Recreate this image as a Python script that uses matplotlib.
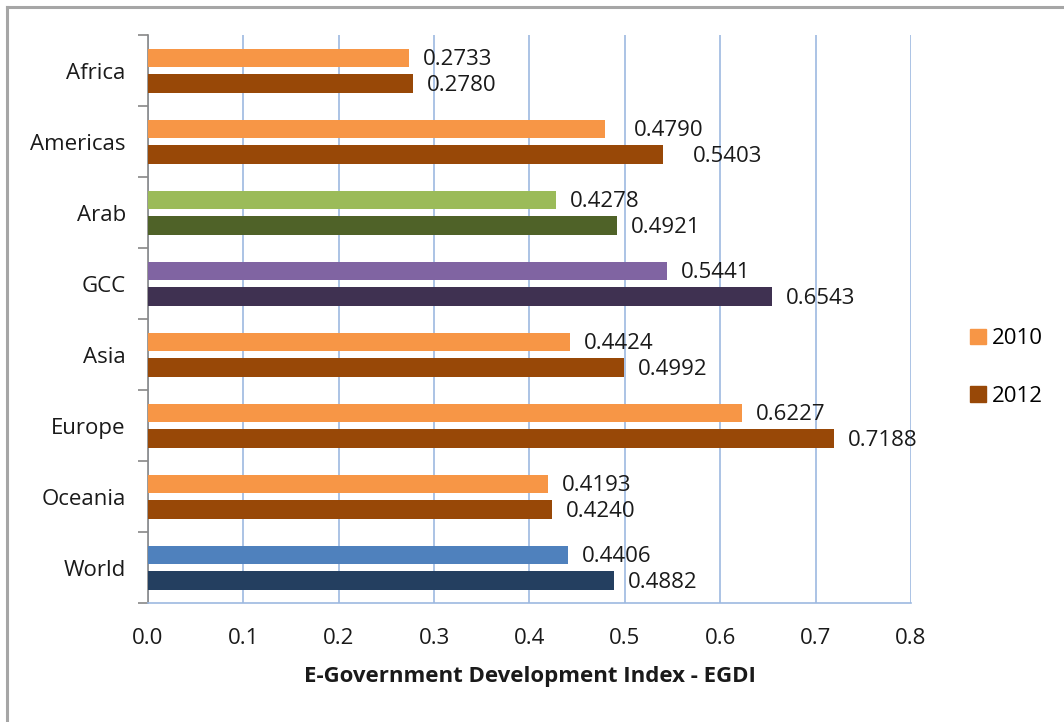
import numpy as np
import matplotlib.pyplot as plt
from matplotlib.lines import Line2D
from matplotlib.patches import Patch

plt.rcParams['font.family'] = ['Open Sans', 'DejaVu Sans']

regions = ["Africa", "Americas", "Arab", "GCC", "Asia", "Europe", "Oceania", "World"]
egdi_2010 = [0.2733, 0.4790, 0.4278, 0.5441, 0.4424, 0.6227, 0.4193, 0.4406]
egdi_2012 = [0.2780, 0.5403, 0.4921, 0.6543, 0.4992, 0.7188, 0.4240, 0.4882]

# colours per region (2010, 2012)
col_2010 = ["#F79646", "#F79646", "#9BBB59", "#8064A2", "#F79646", "#F79646", "#F79646", "#4F81BD"]
col_2012 = ["#984807", "#984807", "#4F6228", "#3F3151", "#984807", "#984807", "#984807", "#243F60"]
# extra label shift (points) - Excel put the Americas labels further out
label_shift = [0, 11, 0, 0, 0, 0, 0, 0]

fs = 16

fig = plt.figure(figsize=(10.64, 7.22), dpi=100)
ax = fig.add_axes([0.1391, 0.1648, 0.7171, 0.7867])

n = len(regions)
y = np.arange(n)
h = 0.254
off = 0.183
ax.barh(y - off, egdi_2010, height=h, color=col_2010, zorder=3)
ax.barh(y + off, egdi_2012, height=h, color=col_2012, zorder=3)

text_col = "#1a1a1a"
for i in range(n):
    for yy, v in ((y[i] - off, egdi_2010[i]), (y[i] + off, egdi_2012[i])):
        ax.annotate(f"{v:.4f}", (v, yy), xytext=(10 + label_shift[i], -1.5),
                    textcoords="offset points", va="center", ha="left",
                    fontsize=fs, color=text_col)

ax.set_xlim(0, 0.8)
ax.set_ylim(n - 0.5, -0.5)
ax.set_xticks(np.arange(0, 0.81, 0.1))
ax.set_xticklabels([f"{t:.1f}" for t in np.arange(0, 0.81, 0.1)], fontsize=fs, color=text_col)
ax.tick_params(axis="x", length=0, pad=18)
ax.set_yticks(y)
ax.set_yticklabels(regions, fontsize=fs, color=text_col)
ax.set_yticks(np.arange(-0.5, n, 1), minor=True)
ax.tick_params(axis="y", which="major", length=0, pad=16)
ax.tick_params(axis="y", which="minor", length=7, color="#888888", width=1.2)
ax.xaxis.grid(True, color="#9DB9E0", linewidth=1.2, zorder=0)

for s in ("top", "right"):
    ax.spines[s].set_visible(False)
ax.spines["bottom"].set_color("#9DB9E0")
ax.spines["bottom"].set_linewidth(1.2)
ax.spines["left"].set_color("#888888")
ax.spines["left"].set_linewidth(1.2)

ax.set_xlabel("E-Government Development Index - EGDI", fontsize=fs,
              fontweight="bold", color=text_col, labelpad=12)

handles = [Patch(color="#F79646"), Patch(color="#984807")]
fig.legend(handles, ["2010", "2012"], loc="center left", bbox_to_anchor=(0.893, 0.491),
           frameon=False, fontsize=fs, handlelength=0.7, handleheight=0.7,
           handletextpad=0.3, labelspacing=1.65)

# outer chart frame (only top and left visible in the crop)
fig.add_artist(Line2D([0.0066, 0.0066], [0, 0.99], color="#A6A6A6", linewidth=2.2,
                      transform=fig.transFigure))
fig.add_artist(Line2D([0.0066, 1.0], [0.99, 0.99], color="#A6A6A6", linewidth=2.2,
                      transform=fig.transFigure))

fig.savefig("out.png", dpi=100)
